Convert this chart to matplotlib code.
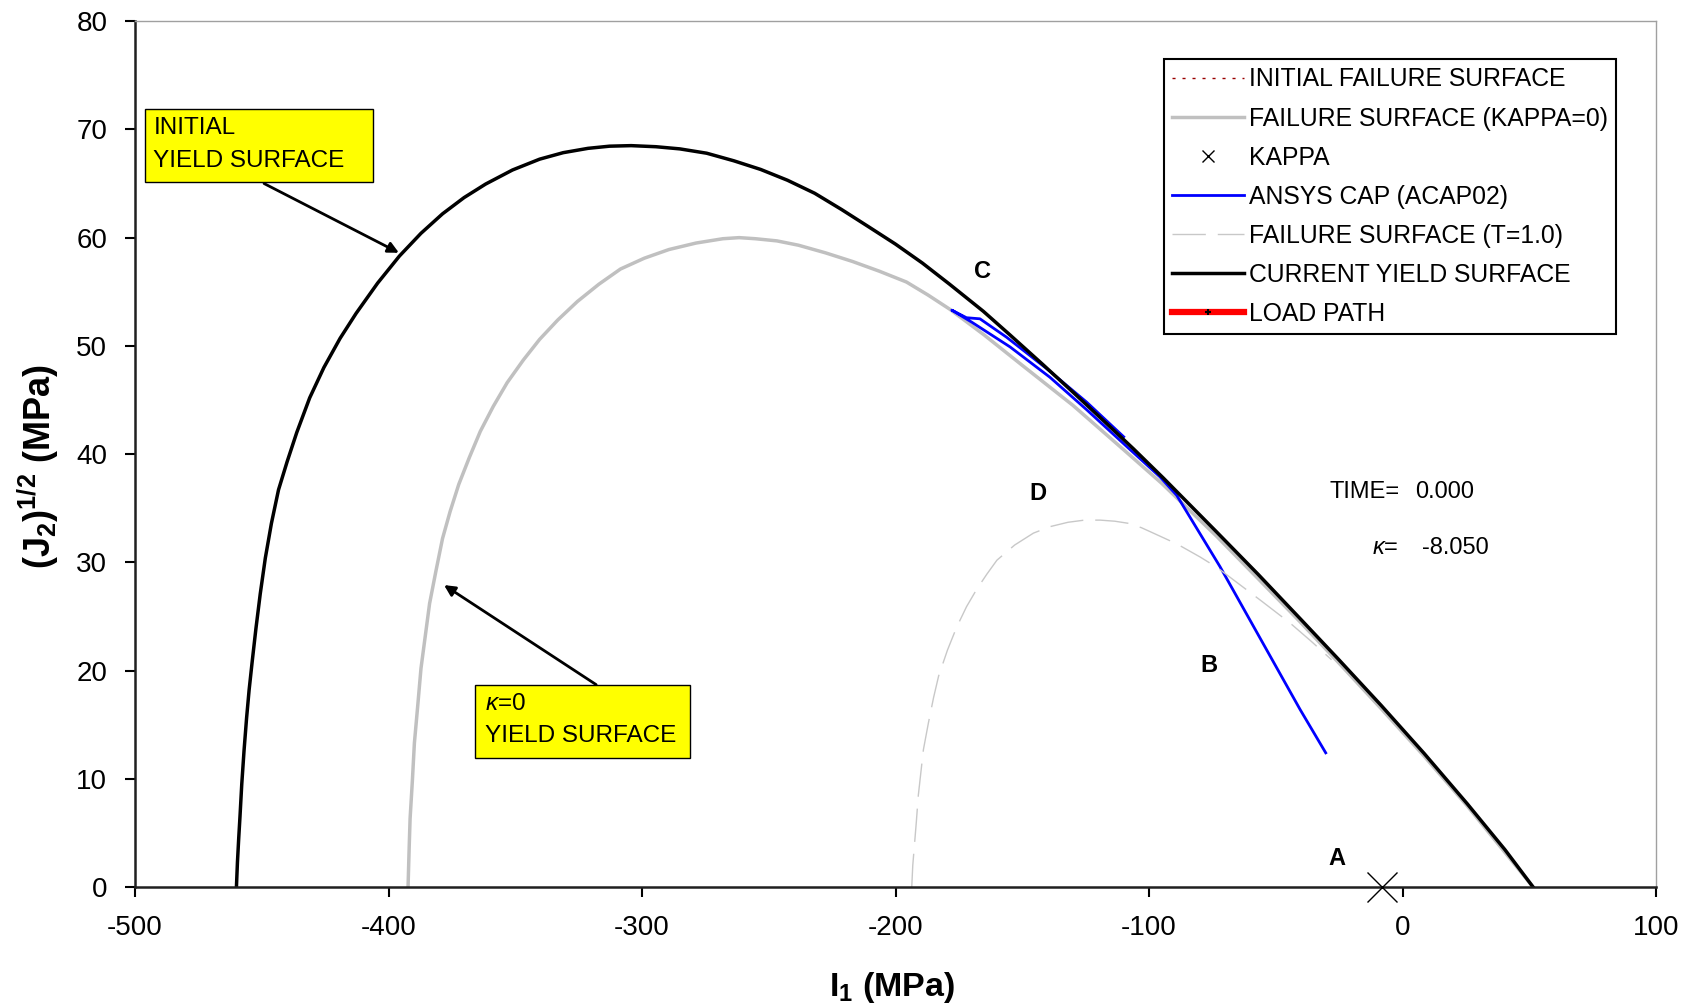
import matplotlib.pyplot as plt
from matplotlib.lines import Line2D
from matplotlib.patches import Rectangle

plt.rcParams['font.family'] = ['Liberation Sans', 'DejaVu Sans']
plt.rcParams['mathtext.fontset'] = 'custom'
plt.rcParams['mathtext.rm'] = 'Liberation Sans'
plt.rcParams['mathtext.it'] = 'Liberation Sans:italic'
plt.rcParams['mathtext.bf'] = 'Liberation Sans:bold'
plt.rcParams['axes.unicode_minus'] = False

# current yield surface (also the initial failure surface, drawn underneath)
yield_i1 = [-460.0, -459.6, -459.1, -458.6, -457.9, -457.0, -456.0, -455.0, -453.8, -452.3,
            -450.6, -448.6, -446.2, -443.4, -440.0, -436.2, -431.1, -425.5, -419.1, -412.8,
            -404.3, -395.7, -387.2, -378.7, -370.2, -361.7, -351.1, -340.4, -331.1, -321.3,
            -312.8, -304.3, -294.5, -285.1, -274.5, -263.8, -253.2, -242.6, -231.9, -221.3,
            -210.6, -200.0, -189.4, -178.7, -165.4, -154.8, -142.0, -129.9, -118.0, -106.2,
            -94.4, -73.3, -57.0, -40.4, -25.5, -8.5, 8.5, 25.5, 40.4, 51.5]
yield_j2 = [0, 2.3, 4.5, 6.5, 9.5, 12.6, 15.6, 18.2, 20.8, 23.9,
            27.1, 30.4, 33.6, 36.7, 39.3, 42.0, 45.2, 48.0, 50.7, 53.0,
            55.8, 58.3, 60.4, 62.2, 63.7, 64.95, 66.25, 67.25, 67.85, 68.25,
            68.45, 68.5, 68.4, 68.2, 67.8, 67.1, 66.3, 65.3, 64.1, 62.6,
            61.0, 59.4, 57.65, 55.7, 53.2, 51.0, 48.3, 45.7, 43.1, 40.5,
            37.8, 32.8, 28.9, 24.8, 21.1, 16.8, 12.35, 7.7, 3.45, 0]

# failure surface, kappa = 0
fail0_i1 = [-392.3, -391.9, -391.5, -390.6, -389.8, -388.5, -387.2, -385.5, -383.8, -381.3,
            -378.7, -375.7, -372.3, -368.1, -363.8, -358.7, -353.2, -346.8, -340.4, -333.2,
            -325.5, -317.0, -308.5, -299.1, -289.4, -278.7, -268.1, -261.7, -255.3, -246.8,
            -238.3, -227.7, -217.0, -206.4, -195.7, -187.2, -178.7, -165.0, -150.0, -130.0,
            -110.0, -95.0, -73.3, -57.0, -40.4, -25.5, -8.5, 8.5, 25.5, 40.4, 51.5]
fail0_j2 = [0, 3.3, 6.3, 9.8, 13.3, 16.7, 20.2, 23.2, 26.2, 29.2,
            32.2, 34.7, 37.2, 39.7, 42.1, 44.4, 46.6, 48.7, 50.6, 52.4,
            54.1, 55.7, 57.1, 58.1, 58.9, 59.5, 59.9, 60.0, 59.9, 59.7,
            59.3, 58.6, 57.8, 56.9, 55.9, 54.7, 53.4, 51.0, 48.2, 44.5,
            40.4, 37.3, 32.4, 28.5, 24.5, 20.8, 16.5, 12.1, 7.5, 3.2, 0]

# failure surface, T = 1.0
fail1_i1 = [-193.6, -193.2, -192.5, -191.8, -191.0, -190.0, -189.0, -187.0, -185.0, -183.0,
            -179.5, -175.9, -172.0, -168.0, -164.0, -160.0, -153.0, -145.6, -139.0, -132.0,
            -125.5, -119.3, -113.5, -108.0, -103.0, -98.3, -89.0, -79.9, -73.0, -66.8,
            -55.5, -44.4, -36.0, -28.0]
fail1_j2 = [0, 2.0, 4.0, 6.0, 8.5, 10.6, 12.7, 15.2, 17.5, 19.5,
            21.9, 24.0, 25.9, 27.5, 28.9, 30.2, 31.6, 32.7, 33.3, 33.7,
            33.9, 33.9, 33.8, 33.6, 33.2, 32.7, 31.7, 30.5, 29.5, 28.4,
            26.4, 24.4, 22.7, 21.0]

# ANSYS cap (ACAP02)
ansys_i1 = [-30.3, -40.4, -72.0, -89.1, -95.7, -108.8, -124.6, -139.1, -154.8, -170.0,
            -177.8, -172.0, -166.7, -156.2, -140.4, -124.6, -110.0]
ansys_j2 = [12.4, 16.4, 29.6, 36.2, 37.9, 40.7, 44.1, 47.1, 49.9, 52.2,
            53.3, 52.6, 52.5, 50.8, 47.9, 44.8, 41.6]

kappa_i1 = [-8.05]
kappa_j2 = [0]

load_i1 = []
load_j2 = []

point_labels = ['A', 'B', 'C', 'D']
point_i1 = [-26.0, -76.3, -165.5, -143.8]
point_j2 = [2.6, 20.5, 56.9, 36.4]

fig = plt.figure(figsize=(16.9, 10.08), dpi=100)
ax = fig.add_axes([0.0799, 0.12, 0.9, 0.859])

ax.plot(yield_i1, yield_j2, color='#990000', lw=1, dashes=(2.2, 5))
ax.plot(fail0_i1, fail0_j2, color='#c0c0c0', lw=2.5)
ax.plot(kappa_i1, kappa_j2, ls='none', marker='x', ms=22, mew=1, color='black', clip_on=False, zorder=5)
ax.plot(ansys_i1, ansys_j2, color='#0000ff', lw=2)
ax.plot(fail1_i1, fail1_j2, color='#c8c8c8', lw=1, dashes=(24, 8.6))
ax.plot(yield_i1, yield_j2, color='black', lw=2.5)
ax.plot(load_i1, load_j2, color='red', lw=4.5)

for lab, x, y in zip(point_labels, point_i1, point_j2):
    ax.text(x, y, lab, fontsize=17, fontweight='bold', ha='center', va='center')

# yellow call-out boxes
ax.add_patch(Rectangle((-495.9, 65.1), 89.8, 6.8, facecolor='#ffff00', edgecolor='black',
                       lw=1, clip_on=False, zorder=6))
ax.text(-492.8, 70.1, 'INITIAL', fontsize=17.5, ha='left', va='center', zorder=7)
ax.text(-492.8, 67.1, 'YIELD SURFACE', fontsize=17.5, ha='left', va='center', zorder=7)
ax.annotate('', xy=(-395.9, 58.6), xytext=(-449.1, 65.0),
            arrowprops=dict(arrowstyle='-|>', color='black', lw=2, mutation_scale=16,
                            shrinkA=0, shrinkB=0))

ax.add_patch(Rectangle((-365.9, 11.9), 84.8, 6.76, facecolor='#ffff00', edgecolor='black',
                       lw=1, clip_on=False, zorder=6))
ax.text(-361.9, 16.9, r'$\kappa$=0', fontsize=17.5, ha='left', va='center', zorder=7)
ax.text(-361.9, 14.0, 'YIELD SURFACE', fontsize=17.5, ha='left', va='center', zorder=7)
ax.annotate('', xy=(-378.1, 27.9), xytext=(-318.1, 18.7),
            arrowprops=dict(arrowstyle='-|>', color='black', lw=2, mutation_scale=16,
                            shrinkA=0, shrinkB=0))

ax.text(-28.9, 36.5, 'TIME=', fontsize=17, ha='left', va='center')
ax.text(4.9, 36.5, '0.000', fontsize=17, ha='left', va='center')
ax.text(-12.2, 31.3, r'$\kappa$=', fontsize=17, ha='left', va='center')
ax.text(7.5, 31.3, '-8.050', fontsize=17, ha='left', va='center')

ax.set_xlim(-500, 100)
ax.set_ylim(0, 80)
ax.set_xticks(range(-500, 101, 100))
ax.set_yticks(range(0, 81, 10))
ax.tick_params(axis='both', direction='out', length=7, width=1.5, labelsize=20)
ax.tick_params(axis='x', pad=13)
ax.tick_params(axis='y', pad=13)
for side in ['left', 'bottom']:
    ax.spines[side].set_linewidth(1.8)
    ax.spines[side].set_color('#202020')
for side in ['top', 'right']:
    ax.spines[side].set_linewidth(1)
    ax.spines[side].set_color('#a0a0a0')

ax.set_xlabel(r'I$_\mathregular{1}$ (MPa)', fontsize=24.5, fontweight='bold')
ax.set_ylabel(r'(J$_\mathregular{2}$)$^\mathregular{1/2}$ (MPa)', fontsize=26, fontweight='bold')
ax.xaxis.set_label_coords(0.4975, -0.096)
ax.yaxis.set_label_coords(-0.049, 0.486)

handles = [
    Line2D([], [], color='#990000', lw=1, dashes=(2.2, 5)),
    Line2D([], [], color='#c0c0c0', lw=2.5),
    Line2D([], [], ls='none', marker='x', ms=8, mew=1, color='black'),
    Line2D([], [], color='#0000ff', lw=2),
    Line2D([], [], color='#c8c8c8', lw=1, dashes=(24, 8.6)),
    Line2D([], [], color='black', lw=2.5),
    Line2D([], [], color='red', lw=4.5, marker='+', ms=5, mew=1.5, mec='black'),
]
labels = ['INITIAL FAILURE SURFACE', 'FAILURE SURFACE (KAPPA=0)', 'KAPPA', 'ANSYS CAP (ACAP02)',
          'FAILURE SURFACE (T=1.0)', 'CURRENT YIELD SURFACE', 'LOAD PATH']
leg = ax.legend(handles, labels, loc='upper right', bbox_to_anchor=(0.974, 0.956),
                borderaxespad=0, fontsize=17.8, fancybox=False, edgecolor='black', framealpha=1,
                borderpad=0.33, labelspacing=0.61, handlelength=2.9, handletextpad=0.22)
leg.get_frame().set_linewidth(1.5)

fig.savefig('out.png', dpi=100)
